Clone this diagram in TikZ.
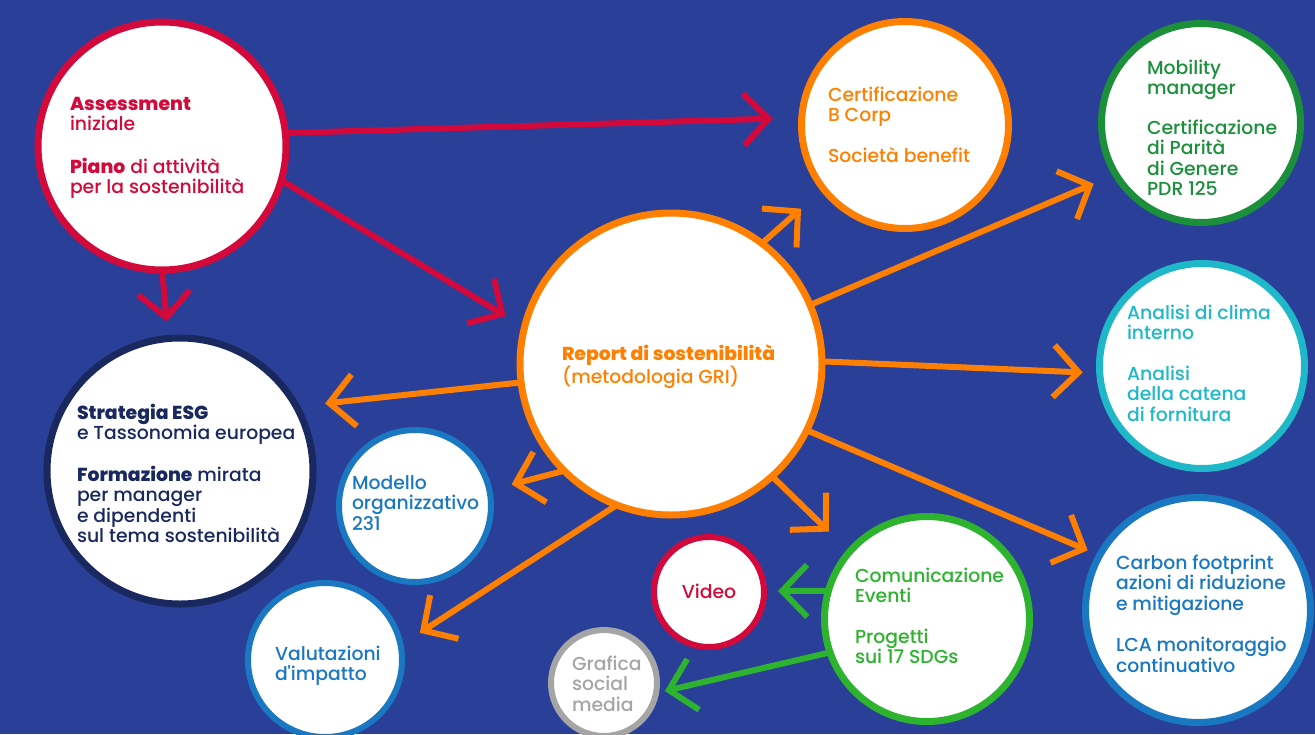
\documentclass[tikz,border=0pt]{standalone}
\usepackage{fontspec}
\setmainfont{Poppins}[UprightFont={* Medium}, BoldFont={* ExtraBold}, Ligatures=TeXOff]
\usetikzlibrary{arrows.meta}
\definecolor{bg}{HTML}{2A3F97}
\definecolor{cred}{HTML}{D2093A}
\definecolor{corange}{HTML}{FF8000}
\definecolor{cnavy}{HTML}{19285F}
\definecolor{cblue}{HTML}{1A78C2}
\definecolor{ccyan}{HTML}{1EB8C8}
\definecolor{cgreenA}{HTML}{1B8F3A}
\definecolor{cgreenB}{HTML}{2DB32D}
\definecolor{cgray}{HTML}{A5A5A5}
\newcommand{\txtfont}{\fontsize{18.8pt}{20.5pt}\selectfont}
\newcommand{\tb}[2]{\parbox[t]{#1}{\raggedright\txtfont #2}}
\begin{document}
\begin{tikzpicture}[x=1pt,y=-1pt,
  bubble/.style={circle, fill=white, draw, line width=7pt, inner sep=0pt, outer sep=0pt, minimum size=#1},
  label/.style={anchor=base west, inner sep=0pt, outer sep=0pt},
  arr/.style={line width=6pt, -{Straight Barb[length=25pt,width=52pt]}}]
\fill[bg] (0,0) rectangle (1315,734);
\useasboundingbox (0,0) rectangle (1315,734);
% circles
\node[bubble=248pt, draw=cred] (A) at (162,146) {};
\node[bubble=266pt, draw=cnavy] (S) at (180,471) {};
\node[bubble=302pt, draw=corange] (R) at (671,364) {};
\node[bubble=207pt, draw=corange] (B) at (905,125) {};
\node[bubble=199pt, draw=cgreenA] (M) at (1201,123) {};
\node[bubble=205pt, draw=ccyan] (C) at (1202,366) {};
\node[bubble=225pt, draw=cblue] (F) at (1198,610) {};
\node[bubble=152pt, draw=cblue, line width=6pt] (O) at (415,506) {};
\node[bubble=154pt, draw=cblue, line width=6pt] (V) at (325,660) {};
\node[bubble=110pt, draw=cred, line width=6pt] (Vid) at (709,592) {};
\node[bubble=106pt, draw=cgray, line width=6pt] (G) at (604,683) {};
\node[bubble=205pt, draw=cgreenB] (E) at (927,619) {};
% texts
\node[label, text=cred] (At) at (70,110) {\tb{8cm}{\textbf{Assessment}\\iniziale\\[22pt]\textbf{Piano} di attività\\per la sostenibilità}};
\node[label, text=cnavy] (St) at (77,419) {\tb{8cm}{\textbf{Strategia ESG}\\e Tassonomia europea\\[21pt]\textbf{Formazione} mirata\\per manager\\e dipendenti\\sul tema sostenibilità}};
\node[label, text=corange] (Rt) at (562,360) {\tb{8cm}{\textbf{Report di sostenibilità}\\(metodologia GRI)}};
\node[label, text=corange] (Bt) at (828,101) {\tb{6cm}{Certificazione\\B Corp\\[20pt]Società benefit}};
\node[label, text=cgreenA] (Mt) at (1147,74) {\tb{6cm}{Mobility\\manager\\[19pt]Certificazione\\di Parità\\di Genere\\PDR 125}};
\node[label, text=ccyan] (Ct) at (1127,319) {\tb{6cm}{Analisi di clima\\interno\\[20pt]Analisi\\della catena\\di fornitura}};
\node[label, text=cblue] (Ft) at (1116,569) {\tb{6cm}{Carbon footprint\\azioni di riduzione\\e mitigazione\\[21pt]LCA monitoraggio\\continuativo}};
\node[label, text=cblue] (Ot) at (352,489) {\tb{6cm}{Modello\\organizzativo\\231}};
\node[label, text=cblue] (Vt) at (275,660) {\tb{6cm}{Valutazioni\\d'impatto}};
\node[anchor=base, inner sep=0pt, text=cred, font=\txtfont] (Vidt) at (709,598) {Video};
\node[label, text=cgray] (Gt) at (572,670) {\tb{4cm}{Grafica\\social\\media}};
\node[label, text=cgreenB] (Et) at (855,582) {\tb{6cm}{Comunicazione\\Eventi\\[20pt]Progetti\\sui 17 SDGs}};
% arrows
\draw[arr, cred, shorten >=29pt] (A.6) -- (B.176.5);
\draw[arr, cred, shorten >=22pt] (A.-16) -- (R.166);
\draw[arr, cred, shorten >=17pt] (A.-90) -- (S.95);
\draw[arr, corange, shorten >=29pt] (R.-173) -- (S.29);
\draw[arr, corange, shorten >=30pt] (R.53) -- (B.218);
\draw[arr, corange, shorten >=24pt] (R.23) -- (M.211);
\draw[arr, corange, shorten >=17pt] (R.1) -- (C.184);
\draw[arr, corange, shorten >=13pt] (R.-26) -- (F.151);
\draw[arr, corange, shorten >=29pt] (R.-48) -- (E.139);
\draw[arr, corange, shorten >=23pt] (R.225) -- (O.12);
\draw[arr, corange, shorten >=23pt] (R.249) -- (V.11);
\draw[arr, cgreenB, shorten >=14pt] (E.164) -- (Vid.1);
\draw[arr, cgreenB, shorten >=9pt] (E.199) -- (G.-11);
\end{tikzpicture}
\end{document}
